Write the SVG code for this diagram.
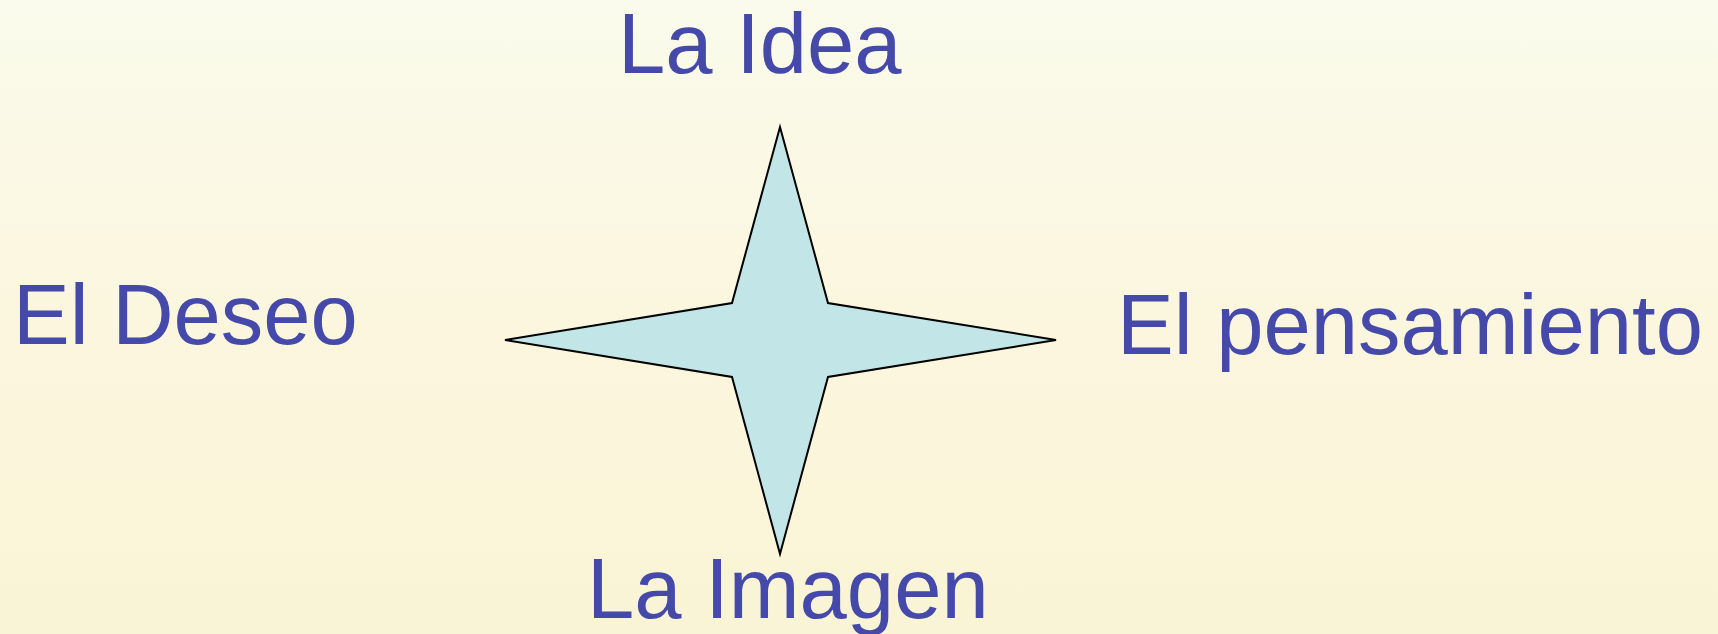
<svg xmlns="http://www.w3.org/2000/svg" width="1718" height="634" viewBox="0 0 1718 634">
<defs>
<linearGradient id="bg" x1="0" y1="0" x2="0" y2="1">
<stop offset="0" stop-color="#fafbec"/>
<stop offset="0.5" stop-color="#fbf6de"/>
<stop offset="1" stop-color="#faf4d6"/>
</linearGradient>
</defs>
<style>
.lbl{font-family:"Liberation Sans",Arial,sans-serif;font-size:85px;fill:#4549a9}
.star{fill:#c2e5e8;stroke:#000;stroke-width:2;stroke-linejoin:miter}
</style>
<rect x="0" y="0" width="1718" height="634" fill="url(#bg)"/>
<g id="star">
<path class="star" d="M780,127 L828,303 L1056,340 L828,377 L780,554 L732,377 L505,340 L732,303 Z"/>
</g>
<g id="idea"><text class="lbl" x="618" y="73">La Idea</text></g>
<g id="deseo"><text class="lbl" x="13" y="344">El Deseo</text></g>
<g id="pensamiento"><text class="lbl" x="1117" y="354">El pensamiento</text></g>
<g id="imagen"><text class="lbl" x="587" y="618">La Imagen</text></g>
<g id="connectors"></g>
</svg>
